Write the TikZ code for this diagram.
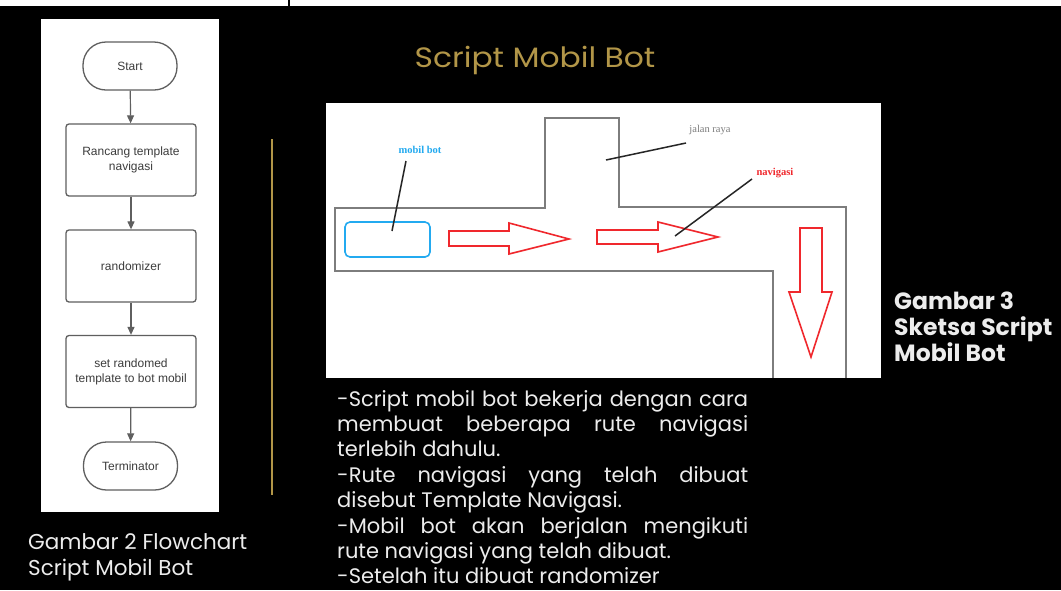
\documentclass[tikz,border=0pt]{standalone}
\usepackage{fontspec}
\setmainfont{Poppins}
\newfontfamily\arialf{Liberation Sans}
\newfontfamily\seriff{Liberation Serif}
\usetikzlibrary{arrows.meta}
\definecolor{goldc}{RGB}{178,150,72}
\definecolor{fcgray}{RGB}{95,95,95}
\definecolor{fctext}{RGB}{60,60,60}
\definecolor{roadgray}{RGB}{125,125,125}
\definecolor{carblue}{RGB}{35,170,240}
\definecolor{navred}{RGB}{240,40,45}
\definecolor{bodytext}{RGB}{236,236,236}
\tikzset{
  fcbase/.style={draw=fcgray, line width=1.3pt, fill=white, text=fctext, align=center,
    font=\arialf\fontsize{12}{15}\selectfont, inner sep=2pt},
  termbox/.style={fcbase, rounded corners=23pt, minimum width=94pt, minimum height=48pt},
  procbox/.style={fcbase, rounded corners=3pt, minimum width=130pt, minimum height=72pt},
  fcarrow/.style={draw=fcgray, line width=1.2pt, -{Triangle[length=8pt,width=7pt]}},
  road/.style={draw=roadgray, line width=1.6pt},
  navarrow/.style={draw=navred, line width=1.6pt, fill=white},
  leader/.style={draw=black!85, line width=1.5pt},
  lbl/.style={font=\seriff\bfseries\fontsize{10.5}{12}\selectfont, inner sep=0pt},
  captxt/.style={anchor=base west, text=bodytext, inner sep=0pt}
}
\begin{document}
\begin{tikzpicture}[x=1pt,y=-1pt]
\fill[black] (0,0) rectangle (1061,590);
\fill[white] (0,0) rectangle (1061,6);
\fill[black] (288,0) rectangle (290,6);
\useasboundingbox (0,0) rectangle (1061,590);

% flowchart panel
\fill[white] (41,19) rectangle (219,512);
\node[termbox] (start) at (130,66) {Start};
\node[procbox] (rancang) at (131,160) {Rancang template\\navigasi};
\node[procbox] (rand) at (131,266) {randomizer};
\node[procbox] (setr) at (131,371.5) {set randomed\\template to bot mobil};
\node[termbox] (term) at (130.5,466) {Terminator};
\draw[fcarrow] (start) -- (rancang);
\draw[fcarrow] (rancang) -- (rand);
\draw[fcarrow] (rand) -- (setr);
\draw[fcarrow] (setr) -- (term);

\node[captxt, font=\fontsize{21.5}{26}\selectfont] (cap2) at (28,549)
  {\parbox[t]{260pt}{\baselineskip=26pt Gambar 2 Flowchart\\Script Mobil Bot}};

% divider
\draw[goldc, line width=1.5pt] (272,139) -- (272,495);

% title
\node[anchor=base, text=goldc, font=\fontsize{28}{34}\selectfont, inner sep=0pt] (title) at (535,67) {\scalebox{1.12}[1]{Script Mobil Bot}};

% sketch
\fill[white] (326,103) rectangle (881,378);
\draw[road] (773,378) -- (773,271) -- (335,271) -- (335,208) -- (545,208) -- (545,118) -- (619,118) -- (619,207) -- (846,207) -- (846,378);
\draw[carblue, line width=1.6pt, rounded corners=5pt] (345,222) rectangle (430,257);
\draw[navarrow] (449,231) -- (509,231) -- (509,223) -- (569,239) -- (509,254) -- (509,246) -- (449,246) -- cycle;
\draw[navarrow] (597,230) -- (658,230) -- (658,222) -- (718,237) -- (658,252) -- (658,244) -- (597,244) -- cycle;
\draw[navarrow] (800,228) -- (822,228) -- (822,292) -- (832,292) -- (811,357) -- (789,292) -- (800,292) -- cycle;

\node[lbl, text=carblue] (lcar) at (420,150) {mobil bot};
\node[lbl, text=roadgray, font=\seriff\fontsize{10.5}{12}\selectfont] (lroad) at (710,130) {jalan raya};
\node[lbl, text=navred] (lnav) at (775,173) {navigasi};
\coordinate (pcar1) at (406,161);
\coordinate (pcar2) at (392,231);
\coordinate (proad1) at (686,143);
\coordinate (proad2) at (606,160);
\coordinate (pnav1) at (752,179);
\coordinate (pnav2) at (675,236);
\draw[leader] (pcar1) -- (pcar2);
\draw[leader] (proad1) -- (proad2);
\draw[leader] (pnav1) -- (pnav2);

% caption 3
\node[captxt, font=\bfseries\fontsize{23.5}{26}\selectfont] (cap3) at (894,309)
  {\parbox[t]{200pt}{\baselineskip=26pt Gambar 3\\Sketsa Script\\Mobil Bot}};

% body text
\node[captxt, font=\fontsize{21}{25.4}\selectfont] (body) at (337,406)
  {\parbox[t]{411pt}{\baselineskip=25.4pt\parindent=0pt
\makebox[411pt][s]{-Script mobil bot bekerja dengan cara}\\
\makebox[411pt][s]{membuat beberapa rute navigasi}\\
terlebih dahulu.\\
\makebox[411pt][s]{-Rute navigasi yang telah dibuat}\\
disebut Template Navigasi.\\
\makebox[411pt][s]{-Mobil bot akan berjalan mengikuti}\\
rute navigasi yang telah dibuat.\\
-Setelah itu dibuat randomizer}};
\end{tikzpicture}
\end{document}
